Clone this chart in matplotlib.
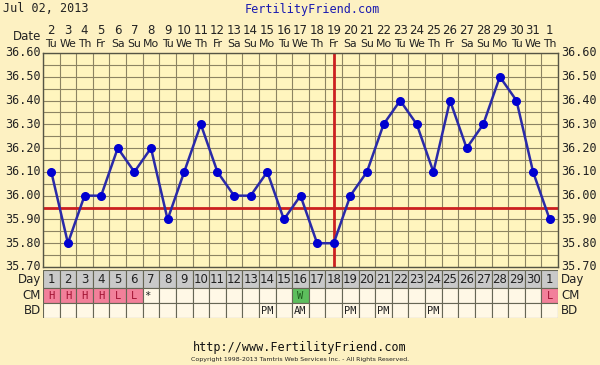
import matplotlib
matplotlib.use("Agg")
import matplotlib.pyplot as plt
from matplotlib.patches import Rectangle

# ---- data ----
dates = ["2","3","4","5","6","7","8","9","10","11","12","13","14","15","16","17",
         "18","19","20","21","22","23","24","25","26","27","28","29","30","31","1"]
weekdays = ["Tu","We","Th","Fr","Sa","Su","Mo"] * 5
weekdays = weekdays[:31]
cycle_days = [str(i) for i in range(1, 31)] + ["1"]
temps = [36.10, 35.80, 36.00, 36.00, 36.20, 36.10, 36.20, 35.90, 36.10, 36.30,
         36.10, 36.00, 36.00, 36.10, 35.90, 36.00, 35.80, 35.80, 36.00, 36.10,
         36.30, 36.40, 36.30, 36.10, 36.40, 36.20, 36.30, 36.50, 36.40, 36.10, 35.90]
cm = ["H","H","H","H","L","L","*","","","","","","","","","W",
      "","","","","","","","","","","","","","","L"]
bd = ["","","","","","","","","","","","","","PM","","AM",
      "","","PM","","PM","","","PM","","","","","","",""]
coverline = 35.95
ovulation_day = 18
ytick_vals = [35.70, 35.80, 35.90, 36.00, 36.10, 36.20, 36.30, 36.40, 36.50, 36.60]
title_date = "Jul 02, 2013"

# ---- style ----
W, H = 600, 365
BG = "#FDF1C2"
PLOT_BG = "#FFF5BE"
GRID = "#8C8462"
ROW_GRAY = "#C9C9C9"
ROW_LIGHT = "#FFF8E6"
PINK = "#F2809A"
PINK_TXT = "#A01030"
GREEN = "#5DBE5D"
GREEN_TXT = "#1E5E1E"
LINE = "#2A2AA8"
MARK = "#0000D0"
RED = "#CC2020"
MONO = "DejaVu Sans Mono"
SANS = "DejaVu Sans"

fig = plt.figure(figsize=(W/100, H/100), dpi=100, facecolor=BG)

def fx(px): return px / W
def fy(py): return 1 - py / H

L, R = 43, 558
TOP, BOT = 53, 267
n = len(temps)
xs = list(range(1, n + 1))

ax = fig.add_axes([fx(L), fy(BOT), fx(R - L), (BOT - TOP) / H])
ax.set_facecolor(PLOT_BG)
ax.set_xlim(0.5, n + 0.5)
ax.set_ylim(35.70, 36.60)
for i in range(n + 1):
    ax.axvline(0.5 + i, color=GRID, lw=0.8, zorder=1)
yv = 35.70
while yv < 36.601:
    ax.axhline(yv, color=GRID, lw=0.8, zorder=1)
    yv += 0.05
ax.set_xticks([])
ax.set_yticks([])
for s in ax.spines.values():
    s.set_color("#555544")
    s.set_linewidth(1.0)

ax.axhline(coverline, color=RED, lw=2, zorder=2)
ax.axvline(ovulation_day, color=RED, lw=2, zorder=2)
ax.plot(xs, temps, color=LINE, lw=1.8, zorder=3)
ax.plot(xs, temps, linestyle="none", marker="o", ms=5.5, color=MARK, zorder=4)

# y tick labels both sides
for v in ytick_vals:
    yp = ax.transData.transform((0, v))[1]
    yfig = fig.transFigure.inverted().transform((0, yp))[1]
    fig.text(fx(L - 2), yfig, f"{v:.2f}", ha="right", va="center",
             fontsize=8.5, family=MONO, color="#222222")
    fig.text(fx(R + 3), yfig, f"{v:.2f}", ha="left", va="center",
             fontsize=8.5, family=MONO, color="#222222")

# top labels
cw = (R - L) / n
for i in range(n):
    cx = fx(L + cw * (i + 0.5))
    fig.text(cx, fy(30), dates[i], ha="center", va="center", fontsize=8.5,
             family=SANS, color="#222222")
    fig.text(cx, fy(44), weekdays[i], ha="center", va="center", fontsize=7.8,
             family=SANS, color="#222222")
fig.text(fx(41), fy(36), "Date", ha="right", va="center", fontsize=8.5,
         family=SANS, color="#222222")

fig.text(fx(3), fy(9), title_date, ha="left", va="center", fontsize=8.5,
         family=MONO, color="#222222")
fig.text(fx(312), fy(9), "FertilityFriend.com", ha="center", va="center",
         fontsize=8.5, family=MONO, color="#1A1AB0")

# table rows
rows_top = 270
rh = [18, 15, 15]
tax = fig.add_axes([fx(L), fy(rows_top + sum(rh)), fx(R - L), sum(rh) / H])
tax.set_xlim(0.5, n + 0.5)
tax.set_ylim(sum(rh), 0)
tax.axis("off")
y0 = 0
row_defs = [("Day", cycle_days, ROW_GRAY), ("CM", cm, ROW_LIGHT), ("BD", bd, ROW_LIGHT)]
for ri, (name, vals, col) in enumerate(row_defs):
    h = rh[ri]
    for i in range(n):
        fc = col
        v = vals[i]
        tc = "#222222"
        if name == "CM" and v in ("H", "L"):
            fc, tc = PINK, PINK_TXT
        if name == "CM" and v == "W":
            fc, tc = GREEN, GREEN_TXT
        tax.add_patch(Rectangle((0.5 + i, y0), 1, h, facecolor=fc,
                                edgecolor="#666655", lw=0.8))
        if v:
            if name == "Day":
                tax.text(i + 1, y0 + h / 2 + 0.5, v, ha="center", va="center",
                         fontsize=8.5, family=SANS, color="#222222")
            else:
                ox = -0.25 if name == "CM" and v == "*" else 0
                tax.text(i + 1 + ox, y0 + h / 2 + 0.5, v, ha="center", va="center",
                         fontsize=7.5, family=MONO, color=tc)
    ymid = rows_top + y0 + h / 2
    fig.text(fx(L - 2), fy(ymid), name, ha="right", va="center", fontsize=8.5,
             family=SANS, color="#222222")
    fig.text(fx(R + 3), fy(ymid), name, ha="left", va="center", fontsize=8.5,
             family=SANS, color="#222222")
    y0 += h

fig.text(0.5, fy(347), "http://www.FertilityFriend.com", ha="center", va="center",
         fontsize=8.5, family=MONO, color="#111111")
fig.text(0.5, fy(359), "Copyright 1998-2013 Tamtris Web Services Inc. - All Rights Reserved.",
         ha="center", va="center", fontsize=4.5, family=SANS, color="#222222")

fig.savefig("out.png", dpi=100, facecolor=BG)
